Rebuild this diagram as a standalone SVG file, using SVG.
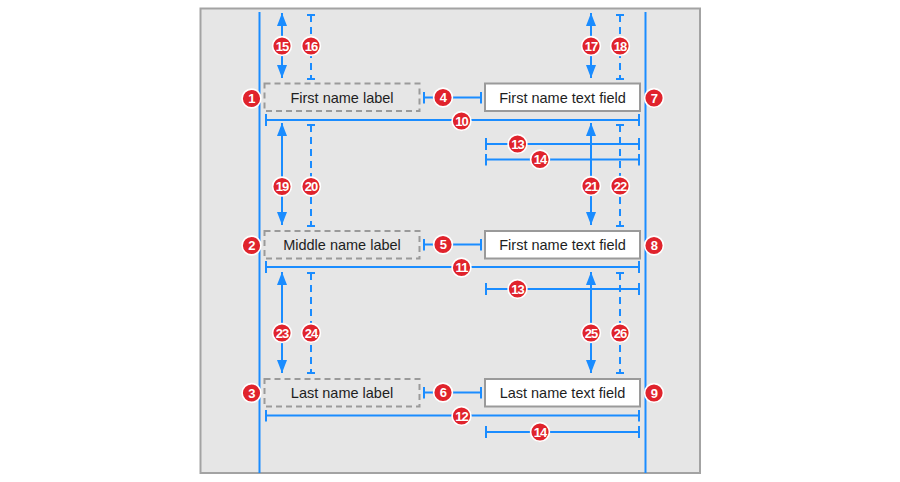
<svg xmlns="http://www.w3.org/2000/svg" width="900" height="482" viewBox="0 0 900 482">
<style>
.panel{fill:#e6e6e6;stroke:#a3a3a3;stroke-width:2}
.lbl{fill:none;stroke:#9a9a9a;stroke-width:2;stroke-dasharray:6 4}
.fld{fill:#ffffff;stroke:#9a9a9a;stroke-width:2}
.txt{font-family:"Liberation Sans",Arial,sans-serif;font-size:14.5px;fill:#1e1e1e;text-anchor:middle}
.guide{stroke:#1a8cff;stroke-width:2;fill:none}
.dim{stroke:#1a8cff;stroke-width:2;fill:none;marker-start:url(#tick);marker-end:url(#tick)}
.arr{stroke:#1a8cff;stroke-width:2;fill:none;marker-start:url(#head);marker-end:url(#head)}
.dash{stroke:#1a8cff;stroke-width:2;fill:none;stroke-dasharray:7 5;marker-start:url(#tick8);marker-end:url(#tick8)}
.bc{fill:#e0232c;stroke:#ffffff;stroke-width:1.6}
.bt{font-family:"Liberation Sans",Arial,sans-serif;font-size:13px;font-weight:bold;fill:#ffffff;text-anchor:middle;letter-spacing:-0.9px}
</style>
<defs>
<marker id="head" markerUnits="userSpaceOnUse" markerWidth="13" markerHeight="10" refX="13" refY="5" orient="auto-start-reverse" viewBox="0 0 13 10">
<path d="M0,0 L13,5 L0,10 Z" fill="#1a8cff"/>
</marker>
<marker id="tick" markerUnits="userSpaceOnUse" markerWidth="4" markerHeight="12" refX="2" refY="6" orient="auto" viewBox="0 0 4 12">
<path d="M2,0 V12" stroke="#1a8cff" stroke-width="2"/>
</marker>
<marker id="tick8" markerUnits="userSpaceOnUse" markerWidth="4" markerHeight="10" refX="2" refY="5" orient="auto" viewBox="0 0 4 10">
<path d="M2,1 V9" stroke="#1a8cff" stroke-width="2"/>
</marker>
</defs>
<rect class="panel" x="200.5" y="8.5" width="499.5" height="464.5"/>
<g id="connectors">
<line class="guide" x1="259.5" y1="12" x2="259.5" y2="473"/>
<line class="guide" x1="645.5" y1="12" x2="645.5" y2="473"/>
<line class="arr" x1="282" y1="13" x2="282" y2="78"/>
<line class="dash" x1="311" y1="15" x2="311" y2="79"/>
<line class="arr" x1="591" y1="13" x2="591" y2="78"/>
<line class="dash" x1="620" y1="15" x2="620" y2="79"/>
<line class="dim" x1="424" y1="97.5" x2="481" y2="97.5"/>
<line class="dim" x1="266" y1="120" x2="639" y2="120"/>
<line class="dim" x1="486" y1="144" x2="639" y2="144"/>
<line class="dim" x1="486" y1="159.5" x2="639" y2="159.5"/>
<line class="arr" x1="282" y1="123" x2="282" y2="225"/>
<line class="dash" x1="311" y1="125" x2="311" y2="226"/>
<line class="arr" x1="591" y1="123" x2="591" y2="225"/>
<line class="dash" x1="620" y1="125" x2="620" y2="226"/>
<line class="dim" x1="424" y1="244.5" x2="481" y2="244.5"/>
<line class="dim" x1="266" y1="267" x2="639" y2="267"/>
<line class="dim" x1="486" y1="289" x2="639" y2="289"/>
<line class="arr" x1="282" y1="272" x2="282" y2="373"/>
<line class="dash" x1="311" y1="273" x2="311" y2="373"/>
<line class="arr" x1="591" y1="272" x2="591" y2="373"/>
<line class="dash" x1="620" y1="273" x2="620" y2="373"/>
<line class="dim" x1="424" y1="392.5" x2="481" y2="392.5"/>
<line class="dim" x1="266" y1="415.5" x2="639" y2="415.5"/>
<line class="dim" x1="486" y1="432" x2="639" y2="432"/>
</g>
<g id="first-name-label"><rect class="lbl" x="264.5" y="83.5" width="155" height="27.5"/><text class="txt" x="342" y="102.5">First name label</text></g>
<g id="first-name-field"><rect class="fld" x="485" y="83.5" width="155" height="27.5"/><text class="txt" x="562.5" y="102.5">First name text field</text></g>
<g id="middle-name-label"><rect class="lbl" x="264.5" y="231" width="155" height="27.5"/><text class="txt" x="342" y="250">Middle name label</text></g>
<g id="middle-name-field"><rect class="fld" x="485" y="231" width="155" height="27.5"/><text class="txt" x="562.5" y="250">First name text field</text></g>
<g id="last-name-label"><rect class="lbl" x="264.5" y="379" width="155" height="27.5"/><text class="txt" x="342" y="398">Last name label</text></g>
<g id="last-name-field"><rect class="fld" x="485" y="379" width="155" height="27.5"/><text class="txt" x="562.5" y="398">Last name text field</text></g>
<g id="badges">
<g id="b1"><circle class="bc" cx="251.5" cy="98.5" r="9.4"/><text class="bt" x="251.5" y="103.2">1</text></g>
<g id="b2"><circle class="bc" cx="251.5" cy="245.5" r="9.4"/><text class="bt" x="251.5" y="250.2">2</text></g>
<g id="b3"><circle class="bc" cx="251.5" cy="393" r="9.4"/><text class="bt" x="251.5" y="397.7">3</text></g>
<g id="b4"><circle class="bc" cx="443" cy="97.5" r="9.4"/><text class="bt" x="443" y="102.2">4</text></g>
<g id="b5"><circle class="bc" cx="443" cy="244.5" r="9.4"/><text class="bt" x="443" y="249.2">5</text></g>
<g id="b6"><circle class="bc" cx="443" cy="392.5" r="9.4"/><text class="bt" x="443" y="397.2">6</text></g>
<g id="b7"><circle class="bc" cx="654" cy="98" r="9.4"/><text class="bt" x="654" y="102.7">7</text></g>
<g id="b8"><circle class="bc" cx="654" cy="245.5" r="9.4"/><text class="bt" x="654" y="250.2">8</text></g>
<g id="b9"><circle class="bc" cx="654" cy="393" r="9.4"/><text class="bt" x="654" y="397.7">9</text></g>
<g id="b10"><circle class="bc" cx="461.5" cy="121" r="9.4"/><text class="bt" x="461.5" y="125.7">10</text></g>
<g id="b11"><circle class="bc" cx="461.5" cy="267.5" r="9.4"/><text class="bt" x="461.5" y="272.2">11</text></g>
<g id="b12"><circle class="bc" cx="461.5" cy="416" r="9.4"/><text class="bt" x="461.5" y="420.7">12</text></g>
<g id="b13a"><circle class="bc" cx="517.5" cy="144" r="9.4"/><text class="bt" x="517.5" y="148.7">13</text></g>
<g id="b14a"><circle class="bc" cx="540" cy="159.5" r="9.4"/><text class="bt" x="540" y="164.2">14</text></g>
<g id="b13b"><circle class="bc" cx="517.5" cy="289" r="9.4"/><text class="bt" x="517.5" y="293.7">13</text></g>
<g id="b14b"><circle class="bc" cx="540" cy="432" r="9.4"/><text class="bt" x="540" y="436.7">14</text></g>
<g id="b15"><circle class="bc" cx="282" cy="46" r="9.4"/><text class="bt" x="282" y="50.7">15</text></g>
<g id="b16"><circle class="bc" cx="311" cy="46" r="9.4"/><text class="bt" x="311" y="50.7">16</text></g>
<g id="b17"><circle class="bc" cx="591" cy="46" r="9.4"/><text class="bt" x="591" y="50.7">17</text></g>
<g id="b18"><circle class="bc" cx="620" cy="46" r="9.4"/><text class="bt" x="620" y="50.7">18</text></g>
<g id="b19"><circle class="bc" cx="282" cy="186.5" r="9.4"/><text class="bt" x="282" y="191.2">19</text></g>
<g id="b20"><circle class="bc" cx="311" cy="186.5" r="9.4"/><text class="bt" x="311" y="191.2">20</text></g>
<g id="b21"><circle class="bc" cx="591" cy="186" r="9.4"/><text class="bt" x="591" y="190.7">21</text></g>
<g id="b22"><circle class="bc" cx="620" cy="186" r="9.4"/><text class="bt" x="620" y="190.7">22</text></g>
<g id="b23"><circle class="bc" cx="282" cy="333" r="9.4"/><text class="bt" x="282" y="337.7">23</text></g>
<g id="b24"><circle class="bc" cx="311" cy="333" r="9.4"/><text class="bt" x="311" y="337.7">24</text></g>
<g id="b25"><circle class="bc" cx="591" cy="333" r="9.4"/><text class="bt" x="591" y="337.7">25</text></g>
<g id="b26"><circle class="bc" cx="620" cy="333" r="9.4"/><text class="bt" x="620" y="337.7">26</text></g>
</g>
</svg>
